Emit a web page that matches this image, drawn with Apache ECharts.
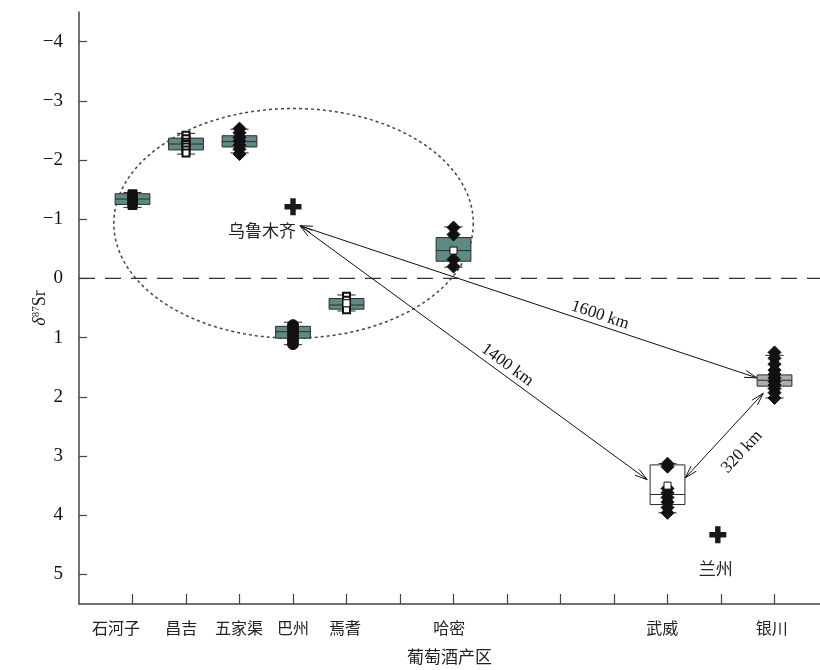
<!DOCTYPE html>
<html>
<head>
<meta charset="utf-8">
<script src="https://cdn.jsdelivr.net/npm/echarts@6.0.0/dist/echarts.min.js"></script>
<style>
  html, body { margin: 0; padding: 0; background: #fff; }
  #main { width: 820px; height: 670px; }
</style>
</head>
<body>
<div id="main"></div>
<script>
var sites = ['石河子', '昌吉', '五家渠', '巴州', '焉耆', '哈密', '武威', '银川'];
var siteX = [1, 2, 3, 4, 5, 7, 11, 13];
var labelX = [0.69, 1.91, 2.99, 4.0, 4.97, 6.92, 10.9, 12.95];
var xTicks = [1, 2, 3, 4, 5, 6, 7, 8, 9, 10, 11, 12, 13];
var yTicks = [-4, -3, -2, -1, 0, 1, 2, 3, 4, 5];

var q1 = [-1.43, -2.37, -2.41, 0.81, 0.34, -0.69, 3.15, 1.63];
var median = [-1.34, -2.27, -2.31, 0.9, 0.45, -0.47, 3.65, 1.72];
var q3 = [-1.25, -2.17, -2.22, 1.01, 0.52, -0.29, 3.82, 1.82];
var whiskLo = [-1.45, -2.45, -2.52, 0.74, 0.28, -0.87, 3.13, 1.3];
var whiskHi = [-1.2, -2.1, -2.12, 1.12, 0.55, -0.19, 3.96, 2.02];
var means = [null, null, null, null, 0.42, -0.47, 3.5, null];

var sitePoints = [
    [-1.42, -1.38, -1.35, -1.33, -1.3, -1.27, -1.24],
    [-2.42, -2.36, -2.3, -2.26, -2.22, -2.17, -2.12],
    [-2.53, -2.46, -2.38, -2.32, -2.25, -2.18, -2.1],
    [0.79, 0.84, 0.9, 0.96, 1.04, 1.11],
    [0.3, 0.37, 0.43, 0.48, 0.53],
    [-0.86, -0.74, -0.32, -0.2],
    [3.13, 3.18, 3.55, 3.62, 3.7, 3.78, 3.87, 3.96],
    [1.25, 1.35, 1.45, 1.55, 1.62, 1.68, 1.74, 1.8, 1.86, 1.93, 2.02]
];

var cities = ['乌鲁木齐', '兰州'];
var cityX = [4.0, 11.94];
var cityY = [-1.21, 4.33];

var routes = ['1600 km', '1400 km', '320 km'];
var routeFrom = [[4.13, -0.89], [4.13, -0.89], [11.33, 3.37]];
var routeTo = [[12.67, 1.68], [10.62, 3.4], [12.79, 1.94]];

// dashed ellipse: centre x, centre y, radius x, radius y
var zone = [4.01, -0.93, 3.36, 1.94];

var boxColors = ['#5e8a86', '#5e8a86', '#5e8a86', '#5e8a86', '#5e8a86', '#5e8a86', '#ffffff', '#b3aaaa'];
var symbols = ['rect', 'emptyRect', 'diamond', 'circle', 'emptyRect', 'diamond', 'diamond', 'diamond'];
var symbolSizes = [9, 7, 13, 11, 7, 13, 13, 13];
var routeLabelT = [0.65, 0.58, 0.5];
var routeLabelOff = [10, 10, -24];

var serif = '"Liberation Serif", "Times New Roman", serif';
var cjk = '"Noto Sans CJK SC", sans-serif';
var plusPath = 'path://M3.4,0H6.6V3.4H10V6.6H6.6V10H3.4V6.6H0V3.4H3.4Z';

var boxData = siteX.map(function (x, i) {
    return [x, q1[i], median[i], q3[i], whiskLo[i], whiskHi[i], i];
});

function renderBox(params, api) {
    var x = api.value(0);
    var i = api.value(6);
    var w = api.size([0.65, 0])[0];
    var cap = api.size([0.34, 0])[0];
    var a = api.coord([x, api.value(1)]);
    var m = api.coord([x, api.value(2)]);
    var b = api.coord([x, api.value(3)]);
    var lo = api.coord([x, api.value(4)]);
    var hi = api.coord([x, api.value(5)]);
    var top = Math.min(a[1], b[1]);
    var line = { stroke: '#222', lineWidth: 1 };
    return {
        type: 'group',
        children: [
            { type: 'line', shape: { x1: a[0], y1: lo[1], x2: a[0], y2: a[1] }, style: line },
            { type: 'line', shape: { x1: a[0], y1: b[1], x2: a[0], y2: hi[1] }, style: line },
            { type: 'line', shape: { x1: a[0] - cap / 2, y1: lo[1], x2: a[0] + cap / 2, y2: lo[1] }, style: line },
            { type: 'line', shape: { x1: a[0] - cap / 2, y1: hi[1], x2: a[0] + cap / 2, y2: hi[1] }, style: line },
            { type: 'rect', shape: { x: a[0] - w / 2, y: top, width: w, height: Math.abs(b[1] - a[1]) },
              style: { fill: boxColors[i], stroke: '#2b2b2b', lineWidth: 1 } },
            { type: 'line', shape: { x1: a[0] - w / 2, y1: m[1], x2: a[0] + w / 2, y2: m[1] },
              style: { stroke: '#2b2b2b', lineWidth: 1 } }
        ]
    };
}

function renderZone(params, api) {
    var c = api.coord([api.value(0), api.value(1)]);
    var r = api.size([api.value(2), api.value(3)]);
    var pts = [];
    for (var k = 0; k <= 180; k++) {
        var t = k / 180 * Math.PI * 2;
        pts.push([c[0] + r[0] * Math.cos(t), c[1] + r[1] * Math.sin(t)]);
    }
    return {
        type: 'polyline',
        shape: { points: pts },
        style: { stroke: '#444', lineWidth: 1.5, lineDash: [3, 3], fill: null }
    };
}

function renderZero(params, api) {
    var p = api.coord([0, api.value(0)]);
    var q = api.coord([13.85, api.value(0)]);
    return {
        type: 'line',
        shape: { x1: p[0], y1: p[1], x2: q[0], y2: q[1] },
        style: { stroke: '#333', lineWidth: 1.2, lineDash: [16, 10] }
    };
}

function arrowHead(tip, dir) {
    var len = 13, ang = 0.28;
    var back = Math.atan2(-dir[1], -dir[0]);
    return {
        type: 'polyline',
        shape: { points: [
            [tip[0] + len * Math.cos(back + ang), tip[1] + len * Math.sin(back + ang)],
            tip,
            [tip[0] + len * Math.cos(back - ang), tip[1] + len * Math.sin(back - ang)]
        ] },
        style: { stroke: '#111', lineWidth: 1, fill: null }
    };
}

function renderRoute(params, api) {
    var i = api.value(4);
    var p = api.coord([api.value(0), api.value(1)]);
    var q = api.coord([api.value(2), api.value(3)]);
    var dx = q[0] - p[0], dy = q[1] - p[1];
    var len = Math.sqrt(dx * dx + dy * dy);
    var ux = dx / len, uy = dy / len;
    var t = routeLabelT[i], off = routeLabelOff[i];
    var lx = p[0] + dx * t + uy * off;
    var ly = p[1] + dy * t - ux * off;
    return {
        type: 'group',
        children: [
            { type: 'line', shape: { x1: p[0], y1: p[1], x2: q[0], y2: q[1] }, style: { stroke: '#111', lineWidth: 1 } },
            arrowHead(q, [ux, uy]),
            arrowHead(p, [-ux, -uy]),
            { type: 'text', x: lx, y: ly, rotation: -Math.atan2(dy, dx),
              style: { text: routes[i], x: 0, y: 0, align: 'center', verticalAlign: 'middle',
                       font: '17px ' + serif, fill: '#111' } }
        ]
    };
}

var pointSeries = sites.map(function (name, i) {
    return {
        name: name,
        type: 'scatter',
        z: 4,
        symbol: symbols[i],
        symbolSize: symbolSizes[i],
        itemStyle: { color: '#111', borderColor: '#111', borderWidth: 1, opacity: 1 },
        data: sitePoints[i].map(function (v) { return [siteX[i], v]; })
    };
});

var meanData = [];
means.forEach(function (v, i) {
    if (v !== null) meanData.push([siteX[i], v]);
});

var dom = document.getElementById('main');
var myChart = echarts.init(dom);

var option = {
    animation: false,
    backgroundColor: '#fff',
    grid: { left: 79, right: 0, top: 12, bottom: 65 },
    xAxis: {
        type: 'value',
        min: 0,
        max: 13.85,
        name: '葡萄酒产区',
        nameLocation: 'middle',
        nameGap: 44,
        nameMoveOverlap: false,
        nameTextStyle: { fontFamily: cjk, fontSize: 17, color: '#222' },
        axisLine: { onZero: false, lineStyle: { color: '#444', width: 1.5 } },
        axisTick: { inside: true, length: 10, customValues: xTicks, lineStyle: { color: '#444', width: 1.2 } },
        axisLabel: {
            customValues: labelX,
            margin: 16,
            fontFamily: cjk,
            fontSize: 16,
            color: '#222',
            formatter: function (v) {
                var k = labelX.indexOf(v);
                return k >= 0 ? sites[k] : '';
            }
        },
        splitLine: { show: false }
    },
    yAxis: {
        type: 'value',
        inverse: true,
        min: -4.5,
        max: 5.5,
        name: '{d|δ}{s|87}{n|Sr}',
        nameLocation: 'middle',
        nameGap: 30,
        nameMoveOverlap: false,
        nameTextStyle: {
            rich: {
                d: { fontFamily: serif, fontStyle: 'italic', fontSize: 18, color: '#222' },
                s: { fontFamily: serif, fontSize: 11, color: '#222', verticalAlign: 'top', padding: [0, 0, 6, 0] },
                n: { fontFamily: serif, fontSize: 18, color: '#222' }
            }
        },
        axisLine: { onZero: false, lineStyle: { color: '#444', width: 1.5 } },
        axisTick: { inside: true, length: 8, customValues: yTicks, lineStyle: { color: '#444', width: 1.2 } },
        axisLabel: {
            customValues: yTicks,
            margin: 16,
            fontFamily: serif,
            fontSize: 19,
            color: '#111',
            formatter: function (v) { return v < 0 ? '\u2212' + Math.abs(v) : String(v); }
        },
        splitLine: { show: false }
    },
    series: [
        {
            type: 'custom',
            name: 'zero',
            renderItem: renderZero,
            data: [[0]],
            encode: { y: 0 },
            z: 1,
            silent: true
        },
        {
            type: 'custom',
            name: 'zone',
            renderItem: renderZone,
            data: [zone],
            z: 1,
            silent: true
        },
        {
            type: 'custom',
            name: 'boxes',
            renderItem: renderBox,
            data: boxData,
            z: 2
        }
    ].concat(pointSeries).concat([
        {
            type: 'scatter',
            name: 'mean',
            z: 5,
            symbol: 'rect',
            symbolSize: 7,
            itemStyle: { color: '#fff', borderColor: '#111', borderWidth: 1, opacity: 1 },
            data: meanData
        },
        {
            type: 'custom',
            name: 'routes',
            renderItem: renderRoute,
            z: 6,
            data: routes.map(function (r, i) {
                return [routeFrom[i][0], routeFrom[i][1], routeTo[i][0], routeTo[i][1], i];
            })
        },
        {
            type: 'scatter',
            name: 'cities',
            z: 6,
            symbol: plusPath,
            symbolSize: 17,
            itemStyle: { color: '#1a1a1a', opacity: 1 },
            label: {
                show: true,
                formatter: function (p) { return cities[p.dataIndex]; },
                fontFamily: cjk,
                fontSize: 17,
                color: '#222'
            },
            data: [
                { value: [cityX[0], cityY[0]], label: { position: 'bottom', offset: [-31, 2] } },
                { value: [cityX[1], cityY[1]], label: { position: 'bottom', offset: [-2, 12] } }
            ]
        }
    ])
};

myChart.setOption(option, true);
</script>
</body>
</html>
